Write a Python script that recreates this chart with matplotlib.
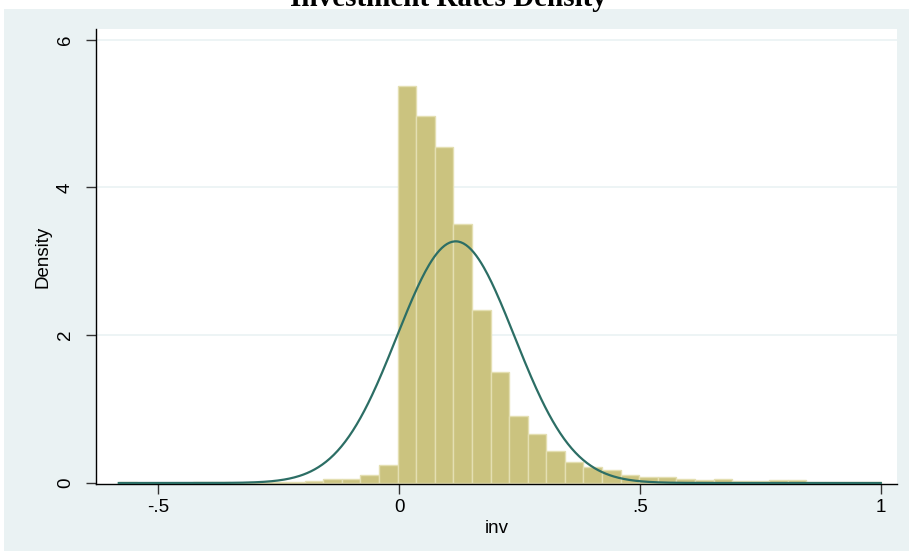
import numpy as np
import matplotlib
matplotlib.use('Agg')
import matplotlib.pyplot as plt
from matplotlib.patches import Rectangle

# ---- data ----
title = "Investment Rates Density"
x_label = "inv"
y_label = "Density"
data_min = -0.582
data_max = 0.999
n_bins = 41
density = [0.010, 0.003, 0.003, 0.003, 0.010, 0.008, 0.005, 0.008, 0.010, 0.018,
           0.030, 0.050, 0.055, 0.11, 0.25,
           5.37, 4.97, 4.54, 3.51, 2.34, 1.50, 0.91, 0.66, 0.43, 0.29, 0.21, 0.17,
           0.11, 0.085, 0.085, 0.054, 0.04, 0.054, 0.027, 0.027, 0.04, 0.04, 0.02,
           0.02, 0.01, 0.02]
norm_mean = 0.117
norm_sd = 0.122
x_ticks = [-0.5, 0, 0.5, 1]
x_tick_labels = ["-.5", "0", ".5", "1"]
y_ticks = [0, 2, 4, 6]
y_tick_labels = ["0", "2", "4", "6"]

W, H = 909, 551
plt.rcParams['font.family'] = ['Liberation Sans', 'DejaVu Sans']
fig = plt.figure(figsize=(W / 100, H / 100), dpi=100, facecolor='white')

bg = '#EAF2F3'
fig.patches.append(Rectangle((4 / W, 0), 1 - 4 / W, 1 - 9 / H, transform=fig.transFigure,
                             facecolor=bg, edgecolor='none', zorder=-5))

ax = fig.add_axes([96 / W, (H - 484) / H, (897 - 96) / W, (484 - 29) / H])
ax.set_zorder(2)
ax.set_facecolor('white')

edges = np.linspace(data_min, data_max, n_bins + 1)
width = edges[1] - edges[0]
ax.bar(edges[:-1], density, width=width, align='edge', color='#CBC37F',
       edgecolor='#E4DFB2', linewidth=1.0, zorder=2)

xs = np.linspace(data_min, data_max, 600)
ys = np.exp(-0.5 * ((xs - norm_mean) / norm_sd) ** 2) / (norm_sd * np.sqrt(2 * np.pi))
ax.plot(xs, ys, color='#2C6E65', linewidth=1.6, zorder=3)

for yv in y_ticks[1:]:
    ax.axhline(yv, color=bg, linewidth=1.2, zorder=1)

ax.set_xlim((96 - 399.3) / 482, (897 - 399.3) / 482)
ax.set_ylim((483 - 484) / 73.9, (483 - 29) / 73.9)

ax.set_xticks(x_ticks)
ax.set_xticklabels(x_tick_labels, fontsize=13.5)
ax.set_yticks(y_ticks)
ax.set_yticklabels(y_tick_labels, fontsize=13.5, rotation=90, va='center')
ax.tick_params(axis='both', direction='out', length=7, width=1, color='#333333', labelcolor='black')
ax.tick_params(axis='x', pad=4)
ax.tick_params(axis='y', pad=9)

for s in ['top', 'right']:
    ax.spines[s].set_visible(False)
for s in ['left', 'bottom']:
    ax.spines[s].set_color('black')
    ax.spines[s].set_linewidth(1.0)

ax.set_xlabel(x_label, fontsize=13.5, labelpad=3)
ax.set_ylabel(y_label, fontsize=13.5, labelpad=4)

fig.text(448 / W, 1 - 6 / H, title, ha='center', va='baseline',
         fontsize=21, fontweight='bold', family=['Liberation Serif', 'DejaVu Serif'])

fig.savefig('out.png', dpi=100, facecolor='white')
